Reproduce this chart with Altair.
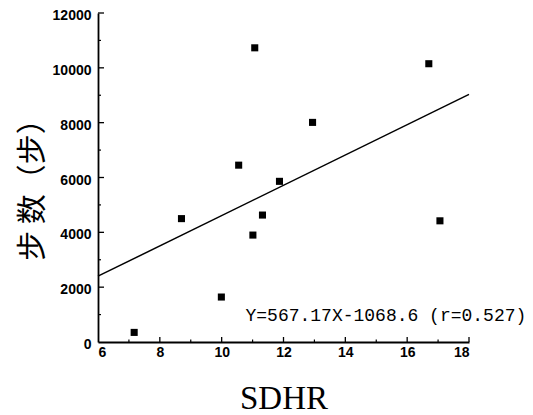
import altair as alt
import pandas as pd

# data
sdhr = [7.17, 8.70, 9.99, 10.55, 11.01, 11.07, 11.32, 11.87, 12.94, 16.70, 17.06]
steps = [350, 4500, 1640, 6450, 3900, 10730, 4630, 5860, 8010, 10150, 4420]

line_x = [6, 18]
line_y = [2400, 9030]

x_major = [8, 10, 12, 14, 16, 18]
x_minor = [7, 9, 11, 13, 15, 17]
y_major = [2000, 4000, 6000, 8000, 10000, 12000]
y_minor = [1000, 3000, 5000, 7000, 9000, 11000]
x_labels = [6, 8, 10, 12, 14, 16, 18]
y_labels = [0, 2000, 4000, 6000, 8000, 10000, 12000]

eq_text = ["Y=567.17X-1068.6 (r=0.527)"]
eq_x = [10.77]
eq_y = [760]

W, H = 371, 329

pts = pd.DataFrame({"x": sdhr, "y": steps})
ln = pd.DataFrame({"x": line_x, "y": line_y})

xs = alt.Scale(domain=[6, 18], nice=False, zero=False)
ys = alt.Scale(domain=[0, 12000], nice=False)

xaxis = alt.Axis(values=x_labels, format="d", ticks=False, grid=False, labelPadding=3,
                 title="SDHR", titleFont="Liberation Serif", titleFontSize=33,
                 titleFontWeight="normal", titleBaseline="alphabetic", titleY=66,
                 titleColor="black")
yaxis = alt.Axis(values=y_labels, format="d", ticks=False, grid=False, labelPadding=7,
                 labelOffset=2.5,
                 title="步  数（步）", titleFont="Noto Sans CJK SC", titleFontSize=30,
                 titleFontWeight="normal", titleAngle=270, titleAlign="center",
                 titleBaseline="middle", titleX=-66, titleY=169, titleColor="black")

base = alt.Chart(pts)

points = base.mark_square(size=50, color="black", opacity=1).encode(
    x=alt.X("x:Q", scale=xs, axis=xaxis),
    y=alt.Y("y:Q", scale=ys, axis=yaxis),
)

reg = alt.Chart(ln).mark_line(color="black", strokeWidth=1.5).encode(
    x=alt.X("x:Q", scale=xs), y=alt.Y("y:Q", scale=ys)
)

xmaj = alt.Chart(pd.DataFrame({"v": x_major})).mark_rule(color="black", strokeWidth=1.3).encode(
    x=alt.X("v:Q", scale=xs), y=alt.value(H), y2=alt.value(H - 5)
)
xmin = alt.Chart(pd.DataFrame({"v": x_minor})).mark_rule(color="black", strokeWidth=1.2).encode(
    x=alt.X("v:Q", scale=xs), y=alt.value(H), y2=alt.value(H - 2.5)
)
ymaj = alt.Chart(pd.DataFrame({"v": y_major})).mark_rule(color="black", strokeWidth=1.3).encode(
    y=alt.Y("v:Q", scale=ys), x=alt.value(0), x2=alt.value(6)
)
ymin = alt.Chart(pd.DataFrame({"v": y_minor})).mark_rule(color="black", strokeWidth=1.2).encode(
    y=alt.Y("v:Q", scale=ys), x=alt.value(0), x2=alt.value(3)
)

eq = alt.Chart(pd.DataFrame({"t": eq_text, "x": eq_x, "y": eq_y})).mark_text(
    align="left", baseline="alphabetic", font="Liberation Mono", fontSize=18, color="black"
).encode(x=alt.X("x:Q", scale=xs), y=alt.Y("y:Q", scale=ys), text="t:N")

chart = alt.layer(points, reg, xmaj, xmin, ymaj, ymin, eq).properties(
    width=W, height=H,
    autosize=alt.AutoSizeParams(type="none"),
    padding={"left": 90, "top": 5, "right": 56, "bottom": 73},
    background="white",
).configure_view(stroke=None).configure_axis(
    domainColor="black", domainWidth=1.8,
    labelFont="Liberation Sans", labelFontSize=14, labelFontWeight="bold",
    labelColor="black",
)

chart.save("out.html", embed_options={"renderer": "svg", "actions": False})
